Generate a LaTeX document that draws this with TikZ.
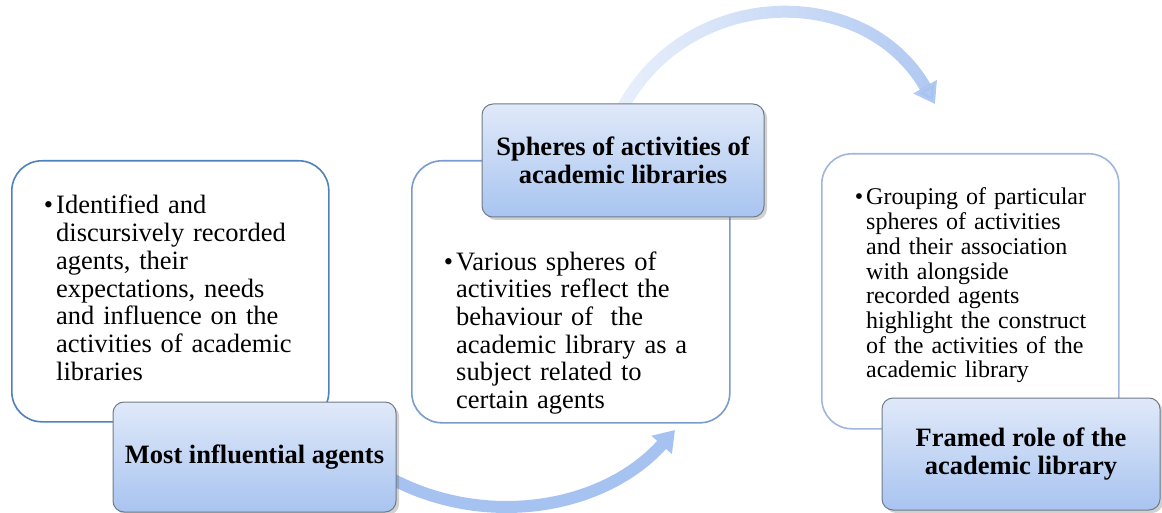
\documentclass[tikz,border=0pt]{standalone}
\usepackage{fontspec}
\setmainfont{Liberation Serif}
\usetikzlibrary{arrows.meta,shadows,fadings}
\definecolor{bAcol}{RGB}{79,129,189}
\definecolor{bBcol}{RGB}{120,155,208}
\definecolor{bCcol}{RGB}{160,182,220}
\definecolor{lbt}{RGB}{224,233,249}
\definecolor{lbb}{RGB}{168,196,240}
\definecolor{lbd}{RGB}{112,122,136}
\definecolor{arrc}{RGB}{166,194,240}
\tikzfading[name=arrfade, left color=transparent!75, right color=transparent!10]
\begin{document}
\begin{tikzpicture}[x=1pt,y=-1pt,
  wbox/.style={rectangle, rounded corners=30pt, fill=white, line width=1.6pt, inner sep=0pt, anchor=north west},
  lbox/.style={rectangle, rounded corners=11pt, draw=lbd, line width=1pt, top color=lbt, bottom color=lbb,
    drop shadow={shadow xshift=3pt, shadow yshift=-3pt, opacity=0.3, fill=black!60},
    align=center, font=\bfseries\fontsize{26.5}{27.7}\selectfont, inner sep=0pt},
  btext/.style={anchor=base west, inner sep=0pt, text width=300pt, align=left, font=\fontsize{26.5}{27.7}\selectfont},
  arrow/.style={line width=12pt, draw=arrc, -{Triangle[width=26pt,length=20pt]}}
]
\useasboundingbox (0,0) rectangle (1162,513);
\clip (0,0) rectangle (1162,513);

% white content boxes
\node[wbox, draw=bAcol, minimum width=317pt, minimum height=261pt] (box1) at (11,160) {};
\node[wbox, draw=bBcol, minimum width=318pt, minimum height=262pt] (box2) at (411,160) {};
\node[wbox, draw=bCcol, minimum width=297pt, minimum height=275pt] (box3) at (821,153) {};

% body texts
\node[btext] (t1) at (56,214) {\llap{\textbullet\hspace{3pt}}Identified and\\discursively recorded\\agents, their\\expectations, needs\\and influence on the\\activities of academic\\libraries};
\node[btext] (t2) at (456,270) {\llap{\textbullet\hspace{3pt}}Various spheres of\\activities reflect the\\behaviour of\ \ the\\academic library as a\\subject related to\\certain agents};
\node[btext, font=\fontsize{24}{24.7}\selectfont] (t3) at (866,205) {\llap{\textbullet\hspace{3pt}}Grouping of particular\\spheres of activities\\and their association\\with alongside\\recorded agents\\highlight the construct\\of the activities of the\\academic library};

% label boxes geometry (positions only)
\coordinate (l1c) at (254.5,457);
\coordinate (l2c) at (623,160.5);
\coordinate (l3c) at (1021,454);

% arrows (drawn under the labels)
\coordinate (a1e) at (675,430);
\coordinate (a2e) at (935,104);
\path (l1c) ++(141.5,0) coordinate (l1east);
\path (l2c) ++(0,-56.5) coordinate (l2north);
\draw[arrow] ([shift={(-6,21)}]l1east) .. controls +(94.7,50.8) and +(-71.7,79.9) .. (a1e);
\draw[arrow, path fading=arrfade] ([shift={(-1.6,6)}]l2north) .. controls +(65.5,-125.3) and +(-70.3,-122.7) .. (a2e);

% label boxes
\node[lbox, minimum width=283pt, minimum height=110pt] (lab1) at (l1c) {Most influential agents};
\node[lbox, minimum width=282pt, minimum height=113pt] (lab2) at (l2c) {Spheres of activities of\\academic libraries};
\node[lbox, minimum width=278pt, minimum height=112pt] (lab3) at (l3c) {Framed role of the\\academic library};
\end{tikzpicture}
\end{document}
